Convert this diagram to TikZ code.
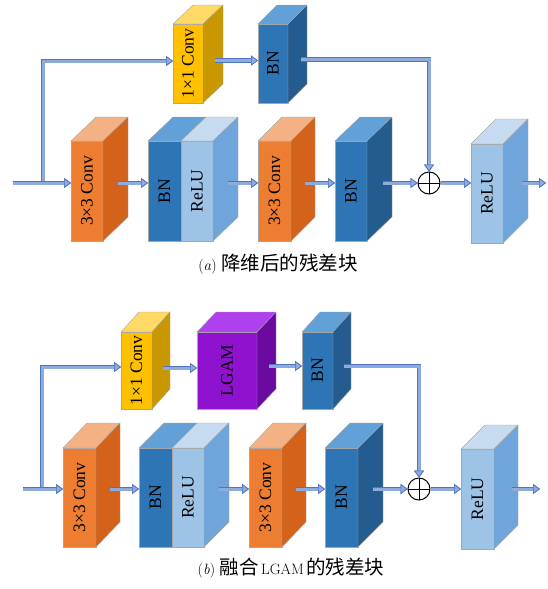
\documentclass[tikz,border=0pt]{standalone}
\usepackage{fontspec}
\newfontfamily\cjk{Noto Sans CJK SC}[Scale=1.3]
\newfontfamily\tnr{Liberation Serif}
\usetikzlibrary{arrows.meta,calc}
\definecolor{orF}{HTML}{ED7D31}\definecolor{orT}{HTML}{F4B183}\definecolor{orS}{HTML}{D3621A}
\definecolor{bnF}{HTML}{2E75B6}\definecolor{bnT}{HTML}{62A0D8}\definecolor{bnS}{HTML}{245C8F}
\definecolor{rlF}{HTML}{9DC3E6}\definecolor{rlT}{HTML}{C6DBEF}\definecolor{rlS}{HTML}{6FA5DA}
\definecolor{ylF}{HTML}{FFC000}\definecolor{ylT}{HTML}{FFD966}\definecolor{ylS}{HTML}{C99700}
\definecolor{puF}{HTML}{8E12CE}\definecolor{puT}{HTML}{B040EE}\definecolor{puS}{HTML}{6A0A9E}
\definecolor{arrFill}{HTML}{8FAADC}\definecolor{arrEdge}{HTML}{4F74C2}
\tikzset{
  cubefront/.style={rectangle, draw=black!35, line width=0.4pt, inner sep=0pt, outer sep=0pt},
  cubeedge/.style={draw=black!35, line width=0.4pt, line join=round},
  lbl/.style={rotate=90, font=\tnr\fontsize{17.5}{20}\selectfont, inner sep=0pt},
  flowtip/.style={-{Triangle[length=7pt,width=10pt,color=arrEdge,fill=arrFill,line width=0.7pt]}},
  flow/.style={draw=arrFill, line width=3pt, flowtip,
    preaction={draw=arrEdge, line width=4.6pt, flowtip}},
  plusnode/.style={circle, draw=black, line width=1pt, minimum size=22pt, inner sep=0pt,
    path picture={\draw[black, line width=1pt]
      (path picture bounding box.north) -- (path picture bounding box.south)
      (path picture bounding box.west) -- (path picture bounding box.east);}},
  captext/.style={font=\fontsize{15}{18}\selectfont, inner sep=0pt}
}
% #1 name #2 x #3 y(top) #4 w #5 h #6 dx #7 dy #8 colour prefix #9 label
\newcommand\mycube[9]{%
  \node[cubefront, fill=#8F, minimum width=#4pt, minimum height=#5pt, anchor=north west] (#1) at (#2,#3) {};
  \filldraw[cubeedge, fill=#8T] (#1.north west) -- ++(#6,-#7) -- ++(#4,0) -- (#1.north east) -- cycle;
  \filldraw[cubeedge, fill=#8S] (#1.north east) -- ++(#6,-#7) -- ++(0,#5) -- (#1.south east) -- cycle;
  \node[lbl] at (#1.center) {#9};
}
% #1 name #2 x #3 y #4 w1 #5 w2 #6 h #7 dx #8 dy
\newcommand\mypair[8]{%
  \node[cubefront, fill=bnF, minimum width=#4pt, minimum height=#6pt, anchor=north west] (#1n) at (#2,#3) {};
  \node[cubefront, fill=rlF, minimum width=#5pt, minimum height=#6pt, anchor=north west] (#1r) at (#1n.north east) {};
  \filldraw[cubeedge, fill=bnT] (#1n.north west) -- ++(#7,-#8) -- ++(#4,0) -- (#1n.north east) -- cycle;
  \filldraw[cubeedge, fill=rlT] (#1r.north west) -- ++(#7,-#8) -- ++(#5,0) -- (#1r.north east) -- cycle;
  \filldraw[cubeedge, fill=rlS] (#1r.north east) -- ++(#7,-#8) -- ++(0,#6) -- (#1r.south east) -- cycle;
  \node[lbl] at (#1n.center) {BN};
  \node[lbl] at (#1r.center) {ReLU};
}
\begin{document}
\begin{tikzpicture}[x=1pt,y=-1pt]
\useasboundingbox (0,0) rectangle (548,589);
% ---------- (a) ----------
\mycube{c1a}{173}{24}{30}{79}{20}{19}{yl}{1×1 Conv}
\mycube{bn1a}{258}{24}{30}{79}{19}{19}{bn}{BN}
\mycube{conv1a}{71}{141}{32}{100}{25}{24}{or}{3×3 Conv}
\mypair{pa}{148}{141}{33}{32}{100}{25}{24}
\mycube{conv2a}{258}{141}{33}{100}{24}{24}{or}{3×3 Conv}
\mycube{bn2a}{335}{141}{32}{100}{25}{24}{bn}{BN}
\mycube{relua}{471}{144}{32}{99}{25}{25}{rl}{ReLU}
\node[plusnode] (plA) at (429,183) {};
\coordinate (inA) at (13,183);
\coordinate (jA) at (43,183);
\coordinate (outA) at (546,183);
\draw[flow] (jA) |- ($(c1a.west)+(0,-2.5)$);
\draw[flow] (inA) -- (inA -| conv1a.west);
\draw[flow] ($(conv1a.east |- inA)+(15,0)$) -- (inA -| pan.west);
\draw[flow] ($(par.east |- inA)+(15,0)$) -- (inA -| conv2a.west);
\draw[flow] ($(conv2a.east |- inA)+(14,0)$) -- (inA -| bn2a.west);
\draw[flow] ($(bn2a.east |- inA)+(16,0)$) -- (plA.west);
\draw[flow] (plA.east) -- (inA -| relua.west);
\draw[flow] ($(relua.east |- inA)+(19,0)$) -- (outA);
\draw[flow] ($(c1a.east)+(12,-3)$) -- ($(bn1a.west)+(0,-3)$);
\draw[flow] ($(bn1a.east)+(13,-4)$) -| (plA.north);
\node[captext] (capa) at (278,264) {(\textit{a})\ {\cjk 降维后的残差块}};
% ---------- (b) ----------
\mycube{c1b}{121}{332}{31}{77}{18}{20}{yl}{1×1 Conv}
\mycube{lgam}{197}{332}{60}{77}{19}{20}{pu}{LGAM}
\mycube{bn1b}{302}{332}{31}{77}{18}{20}{bn}{BN}
\mycube{conv1b}{63}{448}{33}{99}{24}{25}{or}{3×3 Conv}
\mypair{pb}{139}{448}{33}{32}{99}{25}{25}
\mycube{conv2b}{249}{448}{33}{99}{24}{25}{or}{3×3 Conv}
\mycube{bn2b}{325}{448}{33}{99}{25}{25}{bn}{BN}
\mycube{relub}{461}{449}{33}{100}{24}{24}{rl}{ReLU}
\node[plusnode] (plB) at (419,489) {};
\coordinate (inB) at (23,489);
\coordinate (jB) at (42,489);
\coordinate (outB) at (540,489);
\draw[flow] (jB) |- ($(c1b.west)+(0,-3.5)$);
\draw[flow] (inB) -- (inB -| conv1b.west);
\draw[flow] ($(conv1b.east |- inB)+(14,0)$) -- (inB -| pbn.west);
\draw[flow] ($(pbr.east |- inB)+(15,0)$) -- (inB -| conv2b.west);
\draw[flow] ($(conv2b.east |- inB)+(14,0)$) -- (inB -| bn2b.west);
\draw[flow] ($(bn2b.east |- inB)+(15,0)$) -- (plB.west);
\draw[flow] (plB.east) -- (inB -| relub.west);
\draw[flow] ($(relub.east |- inB)+(18,0)$) -- (outB);
\draw[flow] ($(c1b.east)+(11,-2.5)$) -- ($(lgam.west)+(0,-2.5)$);
\draw[flow] ($(lgam.east)+(12,-4.5)$) -- ($(bn1b.west)+(0,-4.5)$);
\draw[flow] ($(bn1b.east)+(11,-4.5)$) -| (plB.north);
\node[captext] (capb) at (291,568) {(\textit{b})\ {\cjk 融合}\,LGAM\,{\cjk 的残差块}};
\end{tikzpicture}
\end{document}
